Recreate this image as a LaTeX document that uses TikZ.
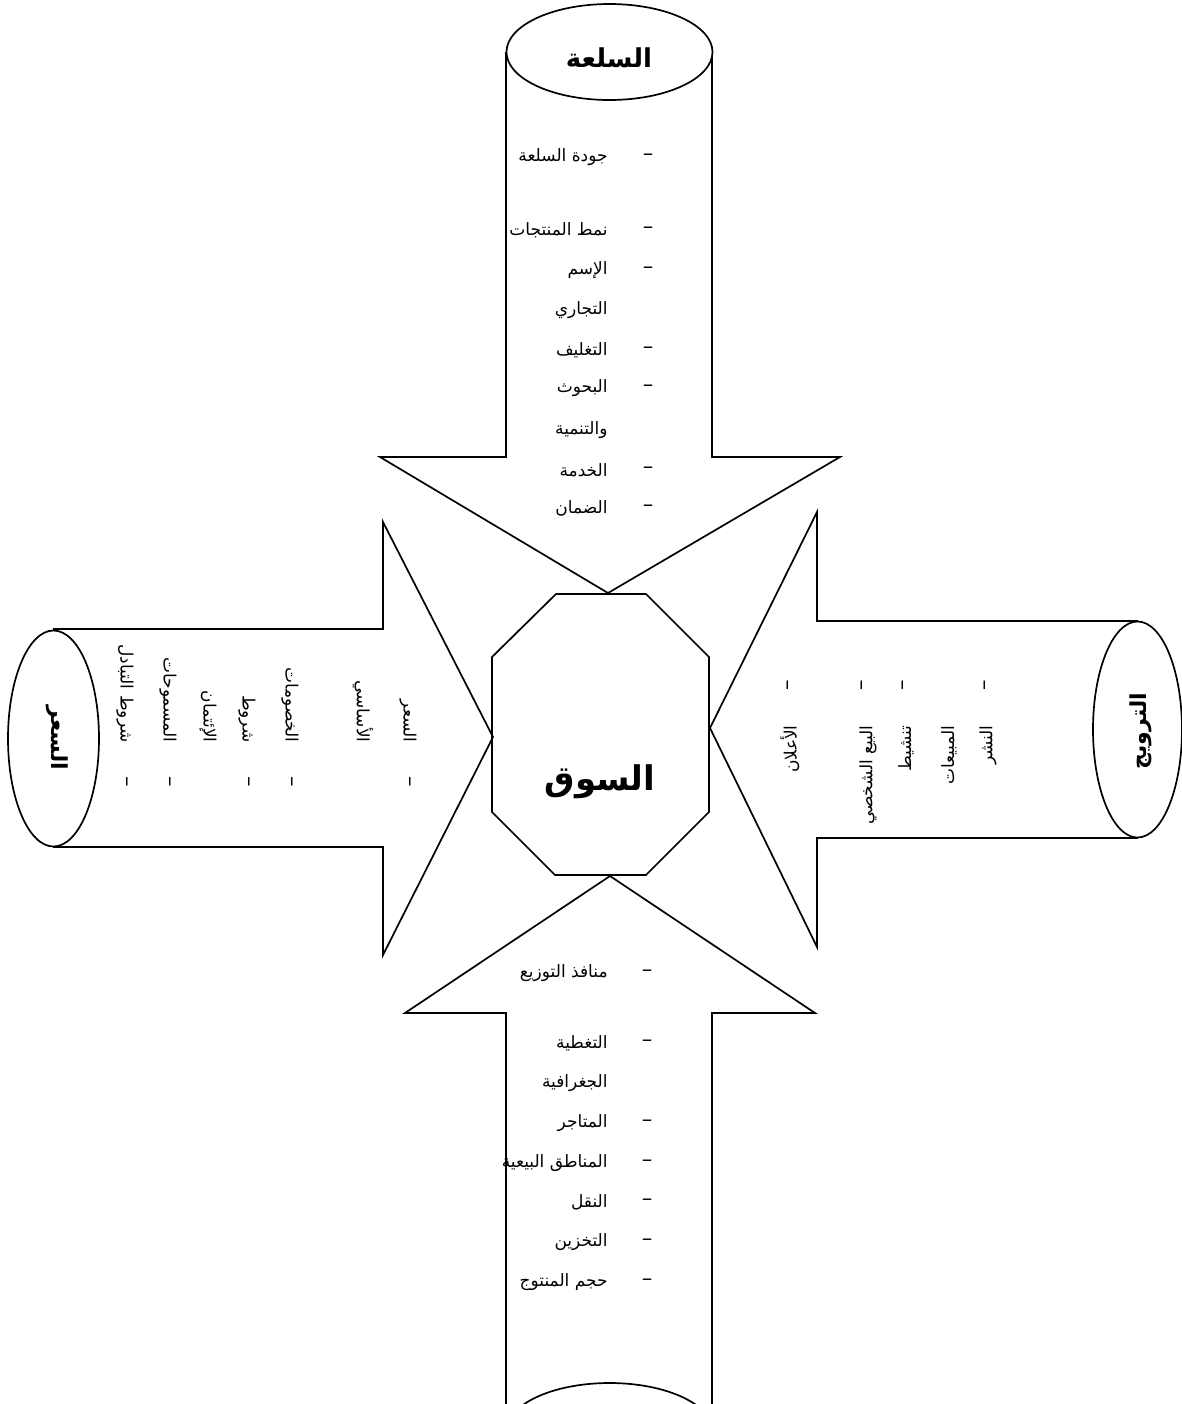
\documentclass[tikz,border=0pt]{standalone}
\usepackage{fontspec}
\newfontfamily\arabicfont[Script=Arabic]{DejaVu Sans}
\TeXXeTstate=1
\newcommand\artxt[1]{\beginR #1\endR}
\tikzset{
  shp/.style={draw, line width=0.85pt, line join=miter},
  itm/.style={font=\arabicfont\fontsize{8.5}{10}\selectfont, inner sep=0pt},
  dsh/.style={font=\arabicfont\fontsize{10.5}{12}\selectfont, inner sep=0pt},
  ttl/.style={font=\arabicfont\bfseries\fontsize{13}{15}\selectfont, inner sep=0pt},
  sttl/.style={font=\arabicfont\bfseries\fontsize{11}{13}\selectfont, inner sep=0pt},
  big/.style={font=\arabicfont\bfseries\fontsize{17}{20}\selectfont, inner sep=0pt},
}
\begin{document}
\begin{tikzpicture}[x=0.5pt,y=-0.5pt]
\useasboundingbox (0,0) rectangle (1182,1404);
\begin{scope}
\clip (0,0) rectangle (1182,1404);
% top arrow
\draw[shp] (506,52) -- (506,457) -- (380,457) -- (608,593) -- (840,457) -- (712,457) -- (712,52);
\draw[shp,fill=white] (609.5,52) ellipse [x radius=103, y radius=48];
% left arrow
\draw[shp] (53,629) -- (383,629) -- (383,522) -- (493,737) -- (383,955) -- (383,847) -- (53,847);
\draw[shp,fill=white] (53.5,738.5) ellipse [x radius=45.5, y radius=108];
% right arrow
\draw[shp] (1138,621) -- (817,621) -- (817,512) -- (710,728) -- (817,947) -- (817,838) -- (1138,838);
\draw[shp,fill=white] (1137.5,729.5) ellipse [x radius=44.5, y radius=108];
% bottom arrow
\draw[shp] (506,1404) -- (506,1013) -- (405,1013) -- (610,876) -- (815,1013) -- (712,1013) -- (712,1404);
\draw[shp,fill=white] (609.5,1431) ellipse [x radius=103, y radius=48];
% octagon
\draw[shp] (556,594) -- (646,594) -- (709,657) -- (709,812) -- (646,875) -- (555,875) -- (492,812) -- (492,657) -- cycle;
\end{scope}

% titles
\node[ttl] (tSilaa) at (609,58) {\artxt{السلعة}};
\node[sttl,rotate=-90] (tSiar) at (57,738) {\artxt{السعر}};
\node[sttl,rotate=90] (tTarwij) at (1141,731) {\artxt{الترويج}};
\node[big] (tSouq) at (600,782) {\artxt{السوق}};

% top items
\node[itm,anchor=east] (a1) at (608,157) {\artxt{جودة السلعة}};
\node[dsh] (a1d) at (648,157) {–};
\node[itm,anchor=east] (a2) at (608,230) {\artxt{نمط المنتجات}};
\node[dsh] (a2d) at (648,230) {–};
\node[itm,anchor=east] (a3) at (608,270) {\artxt{الإسم}};
\node[dsh] (a3d) at (648,270) {–};
\node[itm,anchor=east] (a3b) at (608,310) {\artxt{التجاري}};
\node[itm,anchor=east] (a4) at (608,350) {\artxt{التغليف}};
\node[dsh] (a4d) at (648,350) {–};
\node[itm,anchor=east] (a5) at (608,388) {\artxt{البحوث}};
\node[dsh] (a5d) at (648,388) {–};
\node[itm,anchor=east] (a5b) at (608,430) {\artxt{والتنمية}};
\node[itm,anchor=east] (a6) at (608,470) {\artxt{الخدمة}};
\node[dsh] (a6d) at (648,470) {–};
\node[itm,anchor=east] (a7) at (608,508) {\artxt{الضمان}};
\node[dsh] (a7d) at (648,508) {–};

% bottom items
\node[itm,anchor=east] (b1) at (608,973) {\artxt{منافذ التوزيع}};
\node[dsh] (b1d) at (647,973) {–};
\node[itm,anchor=east] (b2) at (608,1043) {\artxt{التغطية}};
\node[dsh] (b2d) at (647,1043) {–};
\node[itm,anchor=east] (b2b) at (608,1083) {\artxt{الجغرافية}};
\node[itm,anchor=east] (b3) at (608,1123) {\artxt{المتاجر}};
\node[dsh] (b3d) at (647,1123) {–};
\node[itm,anchor=east] (b4) at (608,1163) {\artxt{المناطق البيعية}};
\node[dsh] (b4d) at (647,1163) {–};
\node[itm,anchor=east] (b5) at (608,1202) {\artxt{النقل}};
\node[dsh] (b5d) at (647,1202) {–};
\node[itm,anchor=east] (b6) at (608,1242) {\artxt{التخزين}};
\node[dsh] (b6d) at (647,1242) {–};
\node[itm,anchor=east] (b7) at (608,1282) {\artxt{حجم المنتوج}};
\node[dsh] (b7d) at (647,1282) {–};

% left items (rotated -90)
\node[itm,rotate=-90,anchor=east] (l1) at (408,743) {\artxt{السعر}};
\node[dsh,rotate=-90] (l1d) at (408,782) {–};
\node[itm,rotate=-90,anchor=east] (l1b) at (363,743) {\artxt{الأساسي}};
\node[itm,rotate=-90,anchor=east] (l2) at (290,743) {\artxt{الخصومات}};
\node[dsh,rotate=-90] (l2d) at (290,782) {–};
\node[itm,rotate=-90,anchor=east] (l3) at (247,743) {\artxt{شروط}};
\node[dsh,rotate=-90] (l3d) at (247,782) {–};
\node[itm,rotate=-90,anchor=east] (l3b) at (208,743) {\artxt{الإئتمان}};
\node[itm,rotate=-90,anchor=east] (l4) at (168,743) {\artxt{المسموحات}};
\node[dsh,rotate=-90] (l4d) at (168,782) {–};
\node[itm,rotate=-90,anchor=east] (l5) at (125,743) {\artxt{شروط التبادل}};
\node[dsh,rotate=-90] (l5d) at (125,782) {–};

% right items (rotated 90)
\node[itm,rotate=90,anchor=east] (r1) at (790,725) {\artxt{الأعلان}};
\node[dsh,rotate=90] (r1d) at (790,685) {–};
\node[itm,rotate=90,anchor=east] (r2) at (868,725) {\artxt{البيع الشخصي}};
\node[dsh,rotate=90] (r2d) at (864,685) {–};
\node[itm,rotate=90,anchor=east] (r3) at (906,725) {\artxt{تنشيط}};
\node[dsh,rotate=90] (r3d) at (905,685) {–};
\node[itm,rotate=90,anchor=east] (r3b) at (949,725) {\artxt{المبيعات}};
\node[itm,rotate=90,anchor=east] (r4) at (988,725) {\artxt{النشر}};
\node[dsh,rotate=90] (r4d) at (987,685) {–};
\end{tikzpicture}
\end{document}
